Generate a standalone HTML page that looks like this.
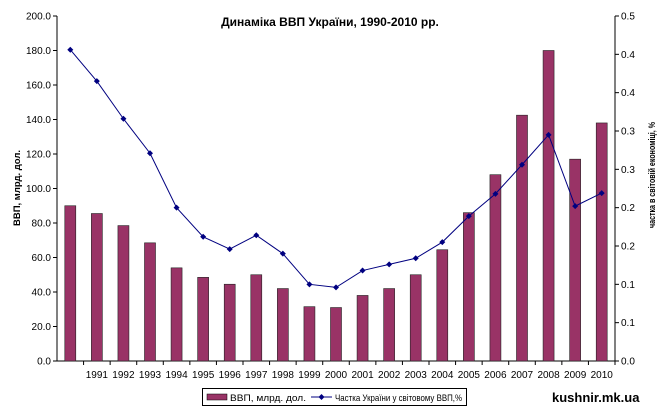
<!DOCTYPE html>
<html><head><meta charset="utf-8"><style>
body{margin:0;background:#fff;width:661px;height:411px;overflow:hidden;font-family:"Liberation Sans",sans-serif}
svg text{font-family:"Liberation Sans",sans-serif}
</style></head><body>
<svg id="chart" width="661" height="411" xmlns="http://www.w3.org/2000/svg">
<text x="330" y="26" font-size="12" font-weight="bold" text-anchor="middle">Динаміка ВВП України, 1990-2010 рр.</text>
<text transform="translate(20,188) rotate(-90)" font-size="9.5" font-weight="bold" text-anchor="middle">ВВП, млрд. дол.</text>
<text transform="translate(655,228) rotate(-90)" font-size="9.5" font-weight="bold" textLength="106" lengthAdjust="spacingAndGlyphs">частка в світовій економіці, %</text>
<g id="plot"></g>
<g>
<rect x="202.5" y="388.5" width="264" height="17" fill="#fff" stroke="#000"/>
<rect x="207" y="394" width="20" height="6" fill="#993366" stroke="#000" stroke-width="0.5"/>
<text x="230" y="401" font-size="9.5" textLength="76" lengthAdjust="spacingAndGlyphs">ВВП, млрд. дол.</text>
<line x1="311" y1="397" x2="332" y2="397" stroke="#000080"/>
<path d="M321.5 394 L324.5 397 L321.5 400 L318.5 397Z" fill="#000080"/>
<text x="335" y="401" font-size="9.5" textLength="127" lengthAdjust="spacingAndGlyphs">Частка України у світовому ВВП,%</text>
</g>
<text x="552" y="402" font-size="13" font-weight="bold">kushnir.mk.ua</text>
</svg>
<script>
const years=["1990","1991","1992","1993","1994","1995","1996","1997","1998","1999","2000","2001","2002","2003","2004","2005","2006","2007","2008","2009","2010"];
const gdp=[90,85.5,78.5,68.5,54,48.5,44.5,50,42,31.5,31,38,42,50,64.5,86,108,142.5,180,117,138];
const share=[0.406,0.365,0.316,0.271,0.200,0.162,0.146,0.164,0.140,0.100,0.096,0.118,0.126,0.134,0.155,0.189,0.218,0.256,0.295,0.202,0.219];
const leftTicks=["0.0","20.0","40.0","60.0","80.0","100.0","120.0","140.0","160.0","180.0","200.0"];
const rightTicks=["0.0","0.1","0.1","0.2","0.2","0.3","0.3","0.4","0.4","0.5"];
const NS="http://www.w3.org/2000/svg";
const g=document.getElementById('plot');
const X0=57,X1=615,Y0=361,Y1=16,LMAX=200,RMAX=0.45;
const cw=(X1-X0)/years.length;
const xc=i=>X0+cw*(i+0.5);
const yL=v=>Y0-(v/LMAX)*(Y0-Y1);
const yR=v=>Y0-(v/RMAX)*(Y0-Y1);
function mk(t,a){const e=document.createElementNS(NS,t);for(const k in a)e.setAttribute(k,a[k]);g.appendChild(e);return e;}
let ax=mk('line',{x1:X0,y1:Y1,x2:X0,y2:Y0,stroke:'#000'});


ax=mk('line',{x1:X1,y1:Y1,x2:X1,y2:Y0,stroke:'#000'});


ax=mk('line',{x1:X0,y1:Y0,x2:X1,y2:Y0,stroke:'#000'});


leftTicks.forEach((t,i)=>{const y=Y0-i*(Y0-Y1)/(leftTicks.length-1);
mk('line',{x1:X0-4,y1:y,x2:X0,y2:y,stroke:'#000'});
const e=mk('text',{x:X0-6,y:y+3.5,'font-size':10,'text-anchor':'end'});e.textContent=t;

});
rightTicks.forEach((t,i)=>{const y=Y0-i*(Y0-Y1)/(rightTicks.length-1);
mk('line',{x1:X1,y1:y,x2:X1+4,y2:y,stroke:'#000'});
const e=mk('text',{x:X1+6,y:y+3.5,'font-size':10});e.textContent=t;

});
years.forEach((yr,i)=>{
const xb=X0+cw*(i+1);mk('line',{x1:xb,y1:Y0,x2:xb,y2:Y0+4,stroke:'#000'});
if(i>0){const e=mk('text',{x:xc(i),y:Y0+17,'font-size':10,'text-anchor':'middle'});e.textContent=yr;

}
const b=mk('rect',{x:xc(i)-5.5,y:yL(gdp[i]),width:11,height:Y0-yL(gdp[i]),fill:'#993366',stroke:'#222','stroke-width':0.6});

});
const ln=mk('polyline',{points:share.map((v,i)=>xc(i)+','+yR(v)).join(' '),fill:'none',stroke:'#000080','stroke-width':1});


share.forEach((v,i)=>{const x=xc(i),y=yR(v);
const p=mk('path',{d:`M${x} ${y-3}L${x+3} ${y}L${x} ${y+3}L${x-3} ${y}Z`,fill:'#000080'});

});
</script>
</body></html>
